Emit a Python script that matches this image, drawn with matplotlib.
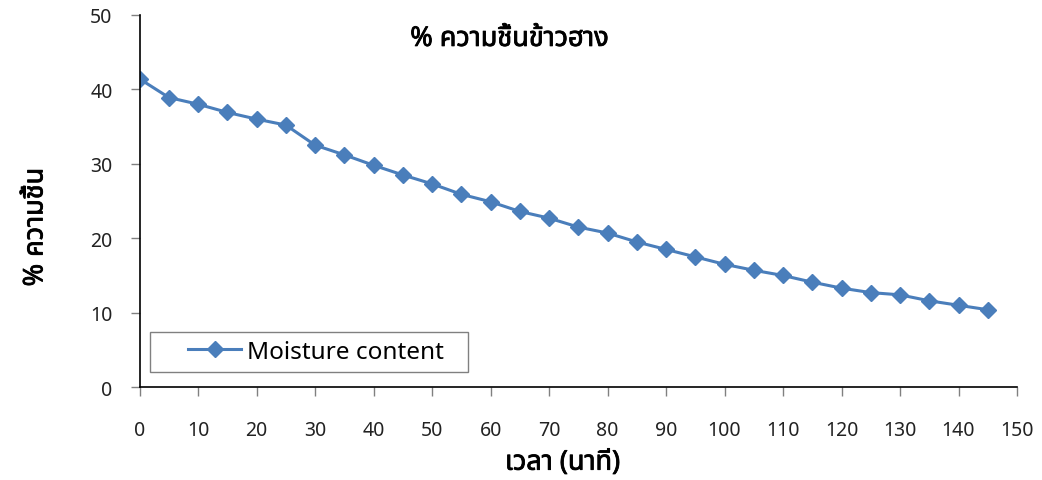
import matplotlib
matplotlib.use("Agg")
import matplotlib.pyplot as plt
import matplotlib.patheffects as pe
from matplotlib import font_manager
from matplotlib.patches import Rectangle

# Moisture content of rice during drying
time_min = [0, 5, 10, 15, 20, 25, 30, 35, 40, 45, 50, 55, 60, 65, 70,
            75, 80, 85, 90, 95, 100, 105, 110, 115, 120, 125, 130, 135, 140, 145]
moisture = [41.4, 38.9, 38.0, 36.9, 36.0, 35.2, 32.5, 31.2, 29.8, 28.5,
            27.3, 25.9, 24.9, 23.6, 22.7, 21.5, 20.7, 19.5, 18.5, 17.5,
            16.5, 15.7, 15.0, 14.1, 13.3, 12.7, 12.4, 11.6, 11.0, 10.4]
xticks = list(range(0, 151, 10))
yticks = list(range(0, 51, 10))

title = "% ความชื้นข้าวฮาง"
xlabel = "เวลา (นาที)"
ylabel = "% ความชื้น"
series_name = "Moisture content"

# pick whatever installed fonts can show Thai
names = {f.name for f in font_manager.fontManager.ttflist}
thai = [n for n in ["Noto Sans Thai", "Noto Sans Thai Looped", "Tahoma",
                    "Leelawadee UI", "Loma", "Garuda", "Waree", "Tlwg Typo",
                    "Kinnari", "Norasi", "Sawasdee"] if n in names]
families = thai + ["Noto Sans", "DejaVu Sans"]
plt.rcParams["font.family"] = families

blue = "#4A7EBB"
# the Thai face has no bold, so thicken it with a thin stroke
bold = [pe.withStroke(linewidth=0.6, foreground="black")]

fig = plt.figure(figsize=(10.42, 4.81), dpi=100)
ax = fig.add_axes([0.134, 0.193, 0.842, 0.774])

ax.plot(time_min, moisture, color=blue, lw=2.2, marker="D", ms=8.5,
        mec=blue, mfc=blue, label=series_name)

ax.set_xlim(0, 150)
ax.set_ylim(0, 50)
ax.set_xticks(xticks)
ax.set_yticks(yticks)
ax.tick_params(axis="both", direction="out", length=6.5, width=1, color="#808080",
               labelsize=14, labelcolor="#222222")
ax.tick_params(axis="x", pad=17)
ax.tick_params(axis="y", pad=13)
for side in ("top", "right"):
    ax.spines[side].set_visible(False)
for side in ("left", "bottom"):
    ax.spines[side].set_color("black")
    ax.spines[side].set_linewidth(1.2)

# legend box
ax.add_patch(Rectangle((0.012, 0.041), 0.362, 0.108, transform=ax.transAxes,
                       fill=False, edgecolor="#808080", lw=1, clip_on=False))
ax.legend(loc="center left", bbox_to_anchor=(0.055, 0.095), fontsize=17.5,
          frameon=False, handlelength=2.2, handletextpad=0.25, borderpad=0,
          borderaxespad=0)

fig.text(0.489, 0.917, title, ha="center", va="center", fontsize=19.5,
         path_effects=bold)
fig.text(0.540, 0.036, xlabel, ha="center", va="center", fontsize=19.5,
         path_effects=bold)
fig.text(0.034, 0.526, ylabel, ha="center", va="center", fontsize=19.5,
         rotation=90, path_effects=bold)

fig.savefig("out.png", dpi=100)
